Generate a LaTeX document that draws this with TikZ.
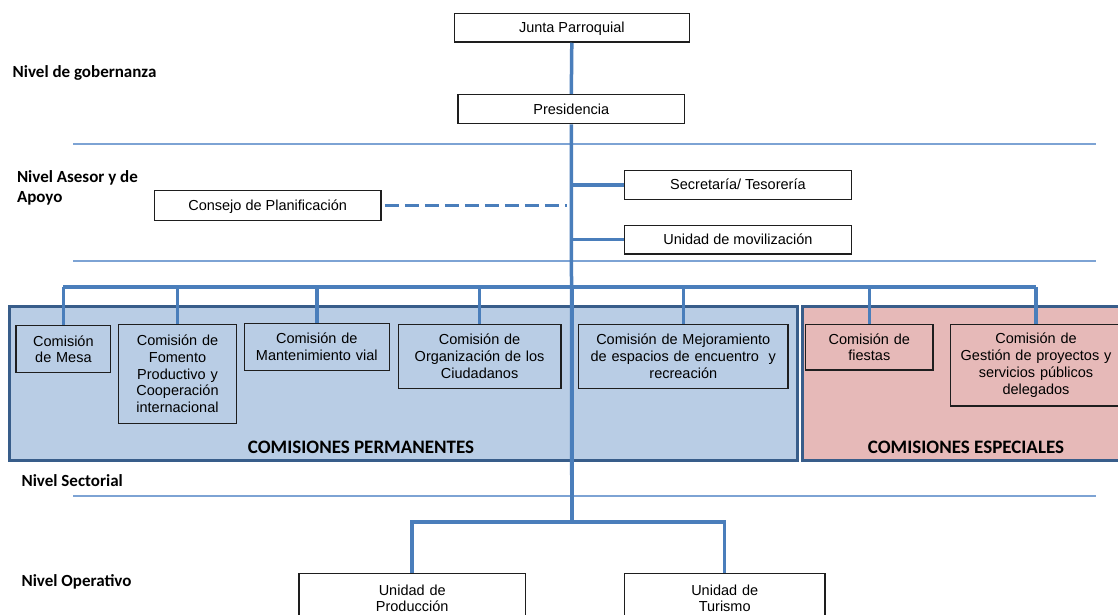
\documentclass[tikz,border=0pt]{standalone}
\usepackage{fontspec}
\setmainfont{Liberation Sans}
\newfontfamily\lblfont{Carlito}
\definecolor{conn}{RGB}{74,126,187}
\definecolor{sep}{RGB}{125,163,212}
\definecolor{frame}{RGB}{56,93,138}
\definecolor{permfill}{RGB}{185,205,229}
\definecolor{espfill}{RGB}{230,185,184}
\definecolor{boxline}{RGB}{30,30,30}
\tikzset{
  orgbox/.style={draw=boxline, line width=1.4pt, fill=white, inner sep=0pt, align=center,
    font=\fontsize{14.5}{16.7}\selectfont},
  onebox/.style={orgbox, text height=13.1pt, text depth=3.1pt},
  clearbox/.style={draw=boxline, line width=1.4pt, fill=none, inner sep=0pt, align=center,
    font=\fontsize{14.5}{16.7}\selectfont},
  lvl/.style={anchor=base west, inner sep=0pt, align=left,
    font=\lblfont\bfseries\fontsize{17}{20}\selectfont},
  grouplbl/.style={anchor=base, inner sep=0pt, font=\lblfont\bfseries\fontsize{19}{22}\selectfont},
  link/.style={draw=conn, line width=3.5pt},
  dashlink/.style={draw=conn, line width=3.5pt, dash pattern=on 14pt off 6pt},
  sepline/.style={draw=sep, line width=1.6pt},
  group/.style={draw=frame, line width=3pt}
}
\begin{document}
\begin{tikzpicture}[x=1pt,y=-1pt]
\useasboundingbox (0,0) rectangle (1118,615);
\clip (0,0) rectangle (1118,615);
\fill[white] (0,0) rectangle (1118,615);

% level separators
\draw[sepline] (73,144) -- (1096,144);
\draw[sepline] (73,261) -- (1096,261);
\draw[sepline] (73,496) -- (1096,496);

% group frames
\path[group, fill=permfill] (9,306.7) rectangle (797.9,460.5);
\path[group, fill=espfill] (802.9,306.7) rectangle (1130,460.5);
\node[grouplbl] (permlbl) at (361,453.3) {COMISIONES PERMANENTES};
\node[grouplbl] (esplbl) at (966,453.3) {COMISIONES ESPECIALES};

% level labels
\node[lvl] (lgob) at (12.5,77.7) {Nivel de gobernanza};
\node[lvl] (lase) at (16.8,202.3) {Nivel Asesor y de\\Apoyo};
\node[lvl] (lsec) at (21.4,486.7) {Nivel Sectorial};
\node[lvl] (lope) at (21.4,586.7) {Nivel Operativo};

% boxes
\node[onebox, minimum width=235pt, minimum height=28.7pt] (junta) at (571.8,27.7) {Junta Parroquial};
\node[onebox, minimum width=226.7pt, minimum height=29pt] (pres) at (571.3,109.2) {Presidencia};
\node[onebox, minimum width=227.1pt, minimum height=29pt] (secr) at (737.9,184.8) {Secretaría/ Tesorería};
\node[onebox, minimum width=227.1pt, minimum height=28.7pt] (movil) at (737.9,239.7) {Unidad de movilización};
\node[onebox, minimum width=226.7pt, minimum height=30pt] (consejo) at (267.7,205.7) {Consejo de Planificación};

\coordinate (bus) at (571.8,287);
\coordinate (ubus) at (571.8,522);

% connectors (drawn under commission boxes)
\draw[link] (junta.south) -- (pres.north);
\draw[link] (pres.south) -- (ubus);
\draw[link] (bus |- secr.west) -- (secr.west);
\draw[link] (bus |- movil.west) -- (movil.west);
\draw[dashlink, shorten <=3pt, shorten >=5pt] (consejo.east) -- (bus |- consejo.east);

\coordinate (cmesa) at (63.4,349.2);
\coordinate (cgest) at (1036,365.2);
\draw[link] (cmesa |- bus) -- (cgest |- bus);
\foreach \xx in {63.4,177.5,317.2,479.6,683.3,869.3,1036}{
  \draw[link] (\xx,287) -- (\xx,330);
}

% commission boxes
\node[clearbox, fill=permfill, minimum width=94.7pt, minimum height=47pt, text width=90pt] (mesa) at (63.4,349.2) {Comisión\\de Mesa};
\node[clearbox, fill=permfill, minimum width=117.8pt, minimum height=99pt, text width=114pt] (fomento) at (177.5,373.8) {Comisión de\\Fomento\\Productivo y\\Cooperación\\internacional};
\node[clearbox, fill=permfill, minimum width=145pt, minimum height=47pt, text width=141pt] (mant) at (316.8,346.8) {Comisión de\\Mantenimiento vial};
\node[clearbox, fill=permfill, minimum width=162.8pt, minimum height=64pt, text width=158pt] (org) at (479.6,356.3) {Comisión de\\Organización de los\\Ciudadanos};
\node[clearbox, fill=permfill, minimum width=209.3pt, minimum height=64pt, text width=205pt] (mejor) at (683.3,356.3) {Comisión de Mejoramiento\\de espacios de encuentro~ y\\recreación};
\node[clearbox, fill=espfill, minimum width=127.2pt, minimum height=45.7pt, text width=123pt] (fiestas) at (869.3,347.2) {Comisión de\\fiestas};
\node[clearbox, fill=espfill, minimum width=171pt, minimum height=81.7pt, text width=167pt] (gestion) at (1036,365.2) {Comisión de\\Gestión de proyectos y\\servicios públicos\\delegados};

% trunk over the permanent frame
\draw[link] (bus) -- (ubus);

% operative units
\node[orgbox, minimum width=226.4pt, minimum height=50pt, text width=222pt] (prod) at (412.2,598.3) {Unidad de\\Producción};
\node[orgbox, minimum width=200.7pt, minimum height=50pt, text width=196pt] (tur) at (724.7,598.3) {Unidad de\\Turismo};
\draw[link] (prod.north) |- (ubus) -| (tur.north);
\end{tikzpicture}
\end{document}
